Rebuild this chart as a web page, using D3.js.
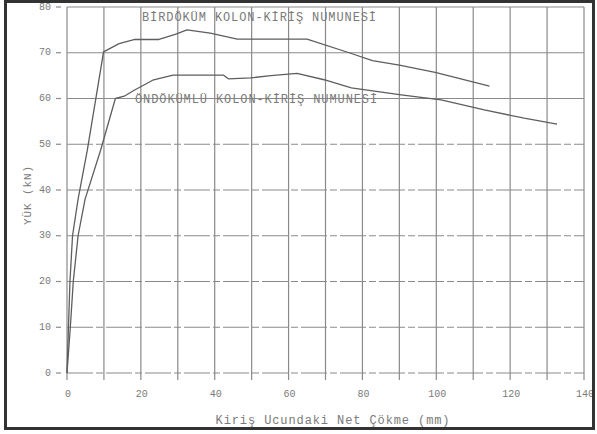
<!DOCTYPE html>
<html>
<head>
<meta charset="utf-8">
<script src="https://cdn.jsdelivr.net/npm/d3@7/dist/d3.min.js"></script>
<style>
  html, body { margin: 0; padding: 0; background: #fff; }
  svg { display: block; }
  text { font-family: "Liberation Mono", "DejaVu Sans Mono", monospace; fill: #7a7a7a; }
</style>
</head>
<body>
<svg id="chart" width="597" height="434"></svg>
<script>
// Load–deflection curves of the two beam-column specimens
const birdokumDefl = [0, 0.4, 0.8, 1.5, 3.0, 5.5, 9.9, 14.1, 18.4, 24.9, 29.3, 32.5, 38.8, 46.1, 65.0, 76.4, 82.7, 90.0, 99.7, 114.4];
const birdokumLoad = [0, 10, 20, 30, 38, 48.7, 70.2, 72.0, 72.9, 72.9, 74.0, 75.0, 74.3, 73.0, 73.0, 70.0, 68.3, 67.3, 65.7, 62.7];

const ondokumDefl = [0, 0.9, 1.7, 3.0, 4.9, 9.1, 13.1, 15.5, 18.2, 23.2, 28.7, 42.4, 43.7, 49.7, 55.2, 62.3, 69.6, 77.0, 90.5, 101.3, 113.0, 123.8, 132.7];
const ondokumLoad = [0, 10, 20, 30, 38, 48.7, 60.0, 60.5, 61.8, 64.0, 65.1, 65.1, 64.3, 64.5, 65.0, 65.5, 64.1, 62.3, 60.8, 59.7, 57.5, 55.7, 54.4];

const xTicks = [0, 20, 40, 60, 80, 100, 120, 140];
const xGrid = [0, 10, 20, 30, 40, 50, 60, 70, 80, 90, 100, 110, 120, 130, 140];
const yTicks = [0, 10, 20, 30, 40, 50, 60, 70, 80];

const labelBirdokum = "BİRDÖKÜM KOLON-KİRİŞ NUMUNESİ";
const labelOndokum = "ÖNDÖKÜMLÜ KOLON-KİRİŞ NUMUNESİ";
const xTitle = "Kiriş Ucundaki Net Çökme (mm)";
const yTitle = "YÜK (kN)";

const svg = d3.select("#chart");

const x = d3.scaleLinear().domain([0, 140]).range([67, 584]);
const y = d3.scaleLinear().domain([0, 80]).range([373, 7]);

// vertical grid lines every 10 mm
svg.append("g").selectAll("line").data(xGrid).join("line")
  .attr("x1", d => x(d)).attr("x2", d => x(d))
  .attr("y1", y(80)).attr("y2", y(0) + 7)
  .attr("stroke", "#8a8a8a").attr("stroke-width", 1.2);

// horizontal grid lines (typewriter-style dashes)
svg.append("g").selectAll("line").data(yTicks).join("line")
  .attr("x1", x(0)).attr("x2", x(140))
  .attr("y1", d => y(d)).attr("y2", d => y(d))
  .attr("stroke", "#8a8a8a").attr("stroke-width", 1.2)
  .attr("stroke-dasharray", d => d >= 60 ? null : "26,3,7,3");

// y ticks and labels
const yAxis = svg.append("g");
yAxis.selectAll("line").data(yTicks).join("line")
  .attr("x1", 56).attr("x2", 61)
  .attr("y1", d => y(d)).attr("y2", d => y(d))
  .attr("stroke", "#8a8a8a").attr("stroke-width", 1.2);
yAxis.selectAll("text").data(yTicks).join("text")
  .attr("x", 51).attr("y", d => y(d))
  .attr("text-anchor", "end").attr("dominant-baseline", "middle")
  .attr("font-size", 10)
  .text(d => d);

// x tick labels
svg.append("g").selectAll("text").data(xTicks).join("text")
  .attr("x", d => x(d) + 1).attr("y", 397)
  .attr("text-anchor", "middle")
  .attr("font-size", 10)
  .text(d => d);

// axis titles
svg.append("text")
  .attr("x", 333).attr("y", 424)
  .attr("text-anchor", "middle")
  .attr("font-size", 12).attr("letter-spacing", 0.9)
  .text(xTitle);

svg.append("text")
  .attr("transform", "translate(31,195) rotate(-90)")
  .attr("text-anchor", "middle")
  .attr("font-size", 11).attr("letter-spacing", 0.9)
  .text(yTitle);

// curves
const line = d3.line().x(d => x(d[0])).y(d => y(d[1]));
const series = [
  d3.zip(birdokumDefl, birdokumLoad),
  d3.zip(ondokumDefl, ondokumLoad)
];
svg.append("g").selectAll("path").data(series).join("path")
  .attr("d", line)
  .attr("fill", "none")
  .attr("stroke", "#5e5e5e")
  .attr("stroke-width", 1.3)
  .attr("stroke-linejoin", "round");

// specimen labels
svg.append("text")
  .attr("x", 142).attr("y", 21)
  .attr("font-size", 12).attr("letter-spacing", 0.9)
  .text(labelBirdokum);
svg.append("text")
  .attr("x", 135).attr("y", 103)
  .attr("font-size", 12).attr("letter-spacing", 0.9)
  .text(labelOndokum);

// outer frame
svg.append("rect")
  .attr("x", 5.5).attr("y", 1.5)
  .attr("width", 588).attr("height", 427)
  .attr("fill", "none")
  .attr("stroke", "#333")
  .attr("stroke-width", 3);
</script>
</body>
</html>
